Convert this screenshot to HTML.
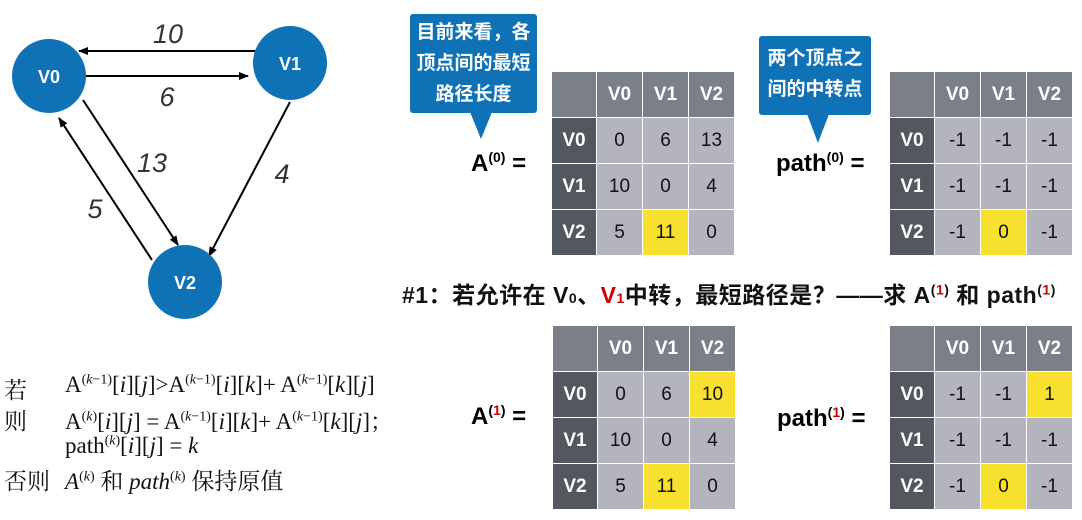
<!DOCTYPE html>
<html><head><meta charset="utf-8"><style>
body{margin:0;width:1082px;height:520px;background:#fff;position:relative;overflow:hidden;font-family:"Liberation Sans","Noto Sans CJK SC",sans-serif}
.t{position:absolute;display:grid;grid-template-columns:44px 45px 45px 45px;grid-template-rows:45px 45px 45px 45px;gap:1px;width:182px;height:183px;background:#fff}
.t div{display:flex;align-items:center;justify-content:center;font-size:19px;color:#111}
.h{background:#7a7f88;color:#fff!important;font-weight:bold}
.r{background:#53575e;color:#fff!important;font-weight:bold}
.c{background:#b4b4bf}
.y{background:#f8e02e}
.lbl{position:absolute;font-weight:bold;font-size:24px;color:#000}
.lbl sup{font-size:14px}
.call{position:absolute;background:#0f72b6;color:#fff;font-weight:bold;font-size:19px;line-height:31px;text-align:center;border-radius:3px}
.f{position:absolute;font-family:"Liberation Serif","Noto Serif CJK SC",serif;font-size:23px;color:#111;white-space:nowrap}
.f sup{font-size:14px}
</style></head><body>
<svg width="360" height="330" style="position:absolute;left:0;top:0">
<defs><marker id="a" markerWidth="10" markerHeight="8" refX="9" refY="4" orient="auto" markerUnits="userSpaceOnUse"><path d="M0,0L10,4L0,8z" fill="#000"/></marker></defs>
<g stroke="#000" stroke-width="2" fill="none">
<line x1="259" y1="51" x2="79" y2="51" marker-end="url(#a)"/>
<line x1="86" y1="76" x2="248" y2="76" marker-end="url(#a)"/>
<line x1="83" y1="100" x2="178" y2="245" marker-end="url(#a)"/>
<line x1="290" y1="102" x2="209" y2="256" marker-end="url(#a)"/>
<line x1="152" y1="260" x2="59" y2="118" marker-end="url(#a)"/>
</g>
<g fill="#0f72b6"><circle cx="49" cy="76" r="37"/><circle cx="290" cy="63" r="37"/><circle cx="185" cy="282" r="37"/></g>
<g fill="#fff" font-weight="bold" font-size="18" text-anchor="middle" font-family="Liberation Sans"><text x="49" y="83">V0</text><text x="290" y="70">V1</text><text x="185" y="289">V2</text></g>
<g font-style="italic" font-size="27" fill="#333" text-anchor="middle" font-family="Liberation Sans"><text x="168" y="43">10</text><text x="167" y="106">6</text><text x="152" y="172">13</text><text x="282" y="183">4</text><text x="95" y="218">5</text></g>
</svg>

<div class="call" style="left:410px;top:14px;width:127px;height:99px;padding-top:3px;box-sizing:border-box">目前来看，各<br>顶点间的最短<br>路径长度</div>
<svg style="position:absolute;left:470px;top:112px" width="24" height="28"><path d="M0,0L22,0L11,27z" fill="#0f72b6"/></svg>
<div class="call" style="left:759px;top:36px;width:112px;height:79px;padding-top:7px;box-sizing:border-box">两个顶点之<br>间的中转点</div>
<svg style="position:absolute;left:807px;top:114px" width="24" height="30"><path d="M0,0L22,0L11,29z" fill="#0f72b6"/></svg>

<div class="lbl" style="left:471px;top:149px">A<sup>(0)</sup> =</div>
<div class="lbl" style="left:776px;top:149px">path<sup>(0)</sup> =</div>
<div class="lbl" style="left:471px;top:402px">A<sup>(<span style="color:#c00">1</span>)</sup> =</div>
<div class="lbl" style="left:777px;top:404px">path<sup>(<span style="color:#c00">1</span>)</sup> =</div>

<div class="t" style="left:552px;top:72px"><div class="h"></div><div class="h">V0</div><div class="h">V1</div><div class="h">V2</div><div class="r">V0</div><div class="c">0</div><div class="c">6</div><div class="c">13</div><div class="r">V1</div><div class="c">10</div><div class="c">0</div><div class="c">4</div><div class="r">V2</div><div class="c">5</div><div class="y">11</div><div class="c">0</div></div>
<div class="t" style="left:890px;top:72px"><div class="h"></div><div class="h">V0</div><div class="h">V1</div><div class="h">V2</div><div class="r">V0</div><div class="c">-1</div><div class="c">-1</div><div class="c">-1</div><div class="r">V1</div><div class="c">-1</div><div class="c">-1</div><div class="c">-1</div><div class="r">V2</div><div class="c">-1</div><div class="y">0</div><div class="c">-1</div></div>
<div class="t" style="left:553px;top:326px"><div class="h"></div><div class="h">V0</div><div class="h">V1</div><div class="h">V2</div><div class="r">V0</div><div class="c">0</div><div class="c">6</div><div class="y">10</div><div class="r">V1</div><div class="c">10</div><div class="c">0</div><div class="c">4</div><div class="r">V2</div><div class="c">5</div><div class="y">11</div><div class="c">0</div></div>
<div class="t" style="left:890px;top:326px"><div class="h"></div><div class="h">V0</div><div class="h">V1</div><div class="h">V2</div><div class="r">V0</div><div class="c">-1</div><div class="c">-1</div><div class="y">1</div><div class="r">V1</div><div class="c">-1</div><div class="c">-1</div><div class="c">-1</div><div class="r">V2</div><div class="c">-1</div><div class="y">0</div><div class="c">-1</div></div>

<div style="position:absolute;left:402px;top:276px;font-size:23px;font-weight:bold;white-space:nowrap;color:#111;letter-spacing:0.5px">#1：若允许在 V<span style="font-size:14px">0</span>、<span style="color:#c00">V<span style="font-size:14px">1</span></span>中转，最短路径是？——求 A<sup style="font-size:14px">(<span style="color:#c00">1</span>)</sup> 和 path<sup style="font-size:14px">(<span style="color:#c00">1</span>)</sup></div>

<div class="f" style="left:4px;top:372px">若</div>
<div class="f" style="left:65px;top:372px">A<sup>(<i>k</i>−1)</sup>[<i>i</i>][<i>j</i>]&gt;A<sup>(<i>k</i>−1)</sup>[<i>i</i>][<i>k</i>]+ A<sup>(<i>k</i>−1)</sup>[<i>k</i>][<i>j</i>]</div>
<div class="f" style="left:4px;top:403px">则</div>
<div class="f" style="left:65px;top:403px">A<sup>(<i>k</i>)</sup>[<i>i</i>][<i>j</i>] = A<sup>(<i>k</i>−1)</sup>[<i>i</i>][<i>k</i>]+ A<sup>(<i>k</i>−1)</sup>[<i>k</i>][<i>j</i>]；</div>
<div class="f" style="left:65px;top:433px">path<sup>(<i>k</i>)</sup>[<i>i</i>][<i>j</i>] = <i>k</i></div>
<div class="f" style="left:4px;top:463px">否则</div>
<div class="f" style="left:65px;top:463px"><i>A</i><sup>(<i>k</i>)</sup> 和 <i>path</i><sup>(<i>k</i>)</sup> 保持原值</div>
</body></html>
